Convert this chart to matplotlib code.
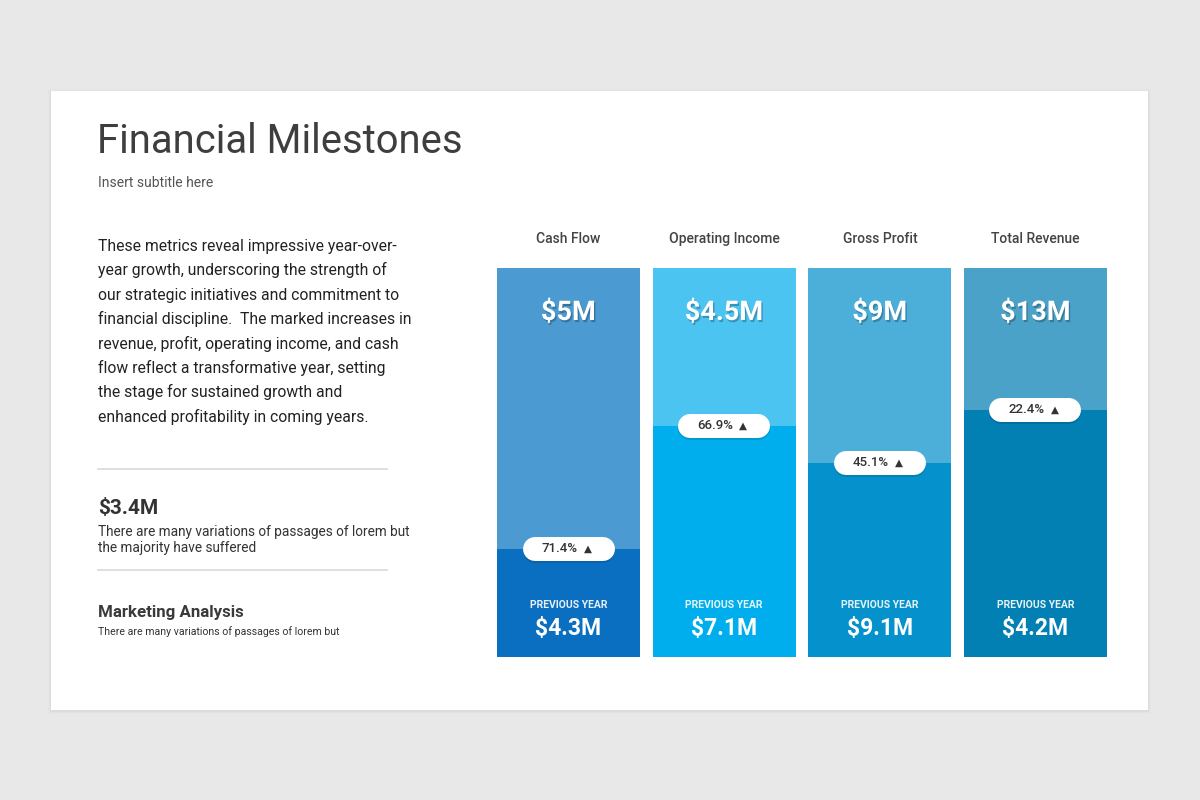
import matplotlib
matplotlib.use("Agg")
import matplotlib.pyplot as plt
import matplotlib.patheffects as pe
import matplotlib.transforms as mtransforms
from matplotlib.patches import Rectangle
from matplotlib.lines import Line2D

# ---------------- data ----------------
categories = ["Cash Flow", "Operating Income", "Gross Profit", "Total Revenue"]
current_labels = ["$5M", "$4.5M", "$9M", "$13M"]
previous_labels = ["$4.3M", "$7.1M", "$9.1M", "$4.2M"]
growth_pct = [71.4, 66.9, 45.1, 22.4]
fill_level = [0.278, 0.594, 0.50, 0.635]   # height of lower (darker) segment
top_colors = ["#4C9AD2", "#4CC4F1", "#4BAFDA", "#4AA2C9"]
bottom_colors = ["#0A6FC1", "#00AEEE", "#0592CC", "#0380B3"]

title = "Financial Milestones"
subtitle = "Insert subtitle here"
paragraph = [
    "These metrics reveal impressive year-over-",
    "year growth, underscoring the strength of",
    "our strategic initiatives and commitment to",
    "financial discipline.  The marked increases in",
    "revenue, profit, operating income, and cash",
    "flow reflect a transformative year, setting",
    "the stage for sustained growth and",
    "enhanced profitability in coming years.",
]
stat_value = "$3.4M"
stat_text = ["There are many variations of passages of lorem but",
             "the majority have suffered"]
section_title = "Marketing Analysis"
section_text = "There are many variations of passages of lorem but"

W, H = 1200, 800
FONT = ["Roboto", "DejaVu Sans"]
plt.rcParams["font.family"] = FONT

fig = plt.figure(figsize=(12, 8), dpi=100, facecolor="#E9E8E9")

def fx(x):
    return x / W

def fy(y):
    return 1 - y / H

# card with soft shadow
for i, a in enumerate([0.025, 0.015, 0.008]):
    d = i + 1
    fig.add_artist(Rectangle((fx(51 - d), fy(710 + d + 1)), (1097 + 2 * d) / W, (619 + 2 * d) / H,
                             transform=fig.transFigure, facecolor="black", alpha=a,
                             edgecolor="none", zorder=0))
fig.add_artist(Rectangle((fx(51), fy(710)), 1097 / W, 619 / H, transform=fig.transFigure,
                         facecolor="white", edgecolor="none", zorder=1))

# ---------------- left text ----------------
fig.text(fx(97), fy(153), title, fontsize=28.8, color="#3E3E3E", va="baseline", ha="left", zorder=3)
fig.text(fx(98), fy(187), subtitle, fontsize=10, color="#555555", va="baseline", ha="left", zorder=3)

for i, line in enumerate(paragraph):
    fig.text(fx(98), fy(251 + i * 24.4), line, fontsize=11.3, color="#222222",
             va="baseline", ha="left", zorder=3)

for yy in (469, 570):
    fig.add_artist(Line2D([fx(98), fx(387)], [fy(yy), fy(yy)], transform=fig.transFigure,
                          color="#D9D9D9", lw=1.2, zorder=3))

fig.text(fx(98), fy(514), stat_value, fontsize=15, fontweight="bold", color="#333333",
         va="baseline", ha="left", zorder=3)
for i, line in enumerate(stat_text):
    fig.text(fx(98), fy(536 + i * 16), line, fontsize=9.8, color="#333333",
             va="baseline", ha="left", zorder=3)
fig.text(fx(98), fy(617), section_title, fontsize=12.2, fontweight="bold", color="#3A3A3A",
         va="baseline", ha="left", zorder=3)
fig.text(fx(98), fy(635), section_text, fontsize=7.6, color="#333333",
         va="baseline", ha="left", zorder=3)

# ---------------- bars ----------------
bar_px = 143
pitch = (1107 - bar_px - 497) / 3           # px between bar starts
bar_w = bar_px / pitch
left_px = 497 - (pitch - bar_px) / 2
right_px = 1107 + (pitch - bar_px) / 2
ax = fig.add_axes([fx(left_px), fy(657), (right_px - left_px) / W, (657 - 268) / H])
ax.set_zorder(4)
ax.patch.set_alpha(0)
x = list(range(len(categories)))
ax.bar(x, [1.0] * len(x), width=bar_w, color=top_colors, edgecolor="none")
ax.bar(x, fill_level, width=bar_w, color=bottom_colors, edgecolor="none")
ax.set_xlim(-0.5, len(x) - 0.5)
ax.set_ylim(0, 1)
ax.axis("off")

px_y = 1.0 / (657 - 268)    # one pixel in y data units
px_x = 1.0 / pitch

shadow_txt = [pe.SimplePatchShadow(offset=(1, -1.5), shadow_rgbFace="black", alpha=0.25), pe.Normal()]

def shifted(dx_px):
    return ax.transData + mtransforms.ScaledTranslation(dx_px / 100, 0, fig.dpi_scale_trans)

for i, cat in enumerate(categories):
    ax.text(i, 1 + 25 * px_y, cat, ha="center", va="baseline", fontsize=10,
            fontweight="medium", color="#444444", clip_on=False)
    ax.text(i, 1 - 52 * px_y, current_labels[i], ha="center", va="baseline", fontsize=19.5,
            fontweight="bold", color="white", path_effects=shadow_txt)
    ax.text(i, 49 * px_y, "PREVIOUS YEAR", ha="center", va="baseline", fontsize=7.5,
            fontweight="bold", color="white", alpha=0.9)
    ax.text(i, 22 * px_y, previous_labels[i], ha="center", va="baseline", fontsize=16.5,
            fontweight="bold", color="white")
    # pill
    half = (92 - 24) / 2 * px_x
    ax.plot([i - half, i + half], [fill_level[i], fill_level[i]], color="white",
            lw=24 * 72 / 100, solid_capstyle="round",
            path_effects=[pe.SimpleLineShadow(offset=(0, -1.5), shadow_color="black", alpha=0.12),
                          pe.Normal()])
    ax.text(i, fill_level[i], f"{growth_pct[i]:.1f}%", ha="right", va="center", fontsize=9.5,
            color="#333333", fontweight="medium", transform=shifted(9))
    ax.text(i, fill_level[i], "▲", ha="left", va="center", fontsize=7.5,
            color="#333333", family="DejaVu Sans", transform=shifted(15))

fig.savefig("out.png", dpi=100, facecolor=fig.get_facecolor())
